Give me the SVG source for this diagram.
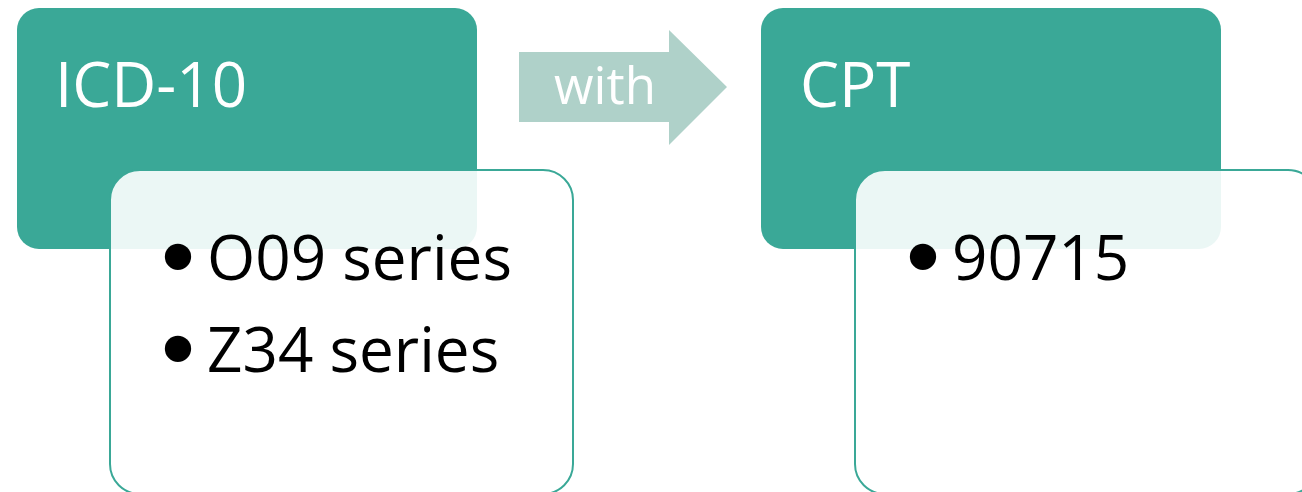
<svg xmlns="http://www.w3.org/2000/svg" width="1302" height="492" viewBox="0 0 1302 492">
<style>
.head{fill:#3AA897}
.box{fill:#FFFFFF;fill-opacity:0.9;stroke:#3AA897;stroke-width:2}
.ttl{font-family:"Open Sans","DejaVu Sans",sans-serif;font-size:62px;fill:#FFFFFF}
.item{font-family:"Open Sans","DejaVu Sans",sans-serif;font-size:62px;fill:#000000}
.bul{font-family:"Liberation Sans","DejaVu Sans",sans-serif;font-size:97px}
.arrow{fill:#AFD1C9}
</style>
<rect width="1302" height="492" fill="#FFFFFF"/>
<g id="icd10">
<rect class="head" x="17" y="8" width="460" height="241" rx="22"/>
<text class="ttl" x="55" y="107">ICD-10</text>
</g>
<g id="cpt">
<rect class="head" x="761" y="8" width="460" height="241" rx="22"/>
<text class="ttl" x="800" y="107">CPT</text>
</g>
<g id="icd10-list">
<rect class="box" x="110" y="170" width="463" height="324" rx="30"/>
<text class="item"><tspan class="bul" x="161" y="289">•</tspan><tspan x="207" y="280">O09 series</tspan></text>
<text class="item"><tspan class="bul" x="161" y="381">•</tspan><tspan x="207" y="372">Z34 series</tspan></text>
</g>
<g id="cpt-list">
<rect class="box" x="855" y="170" width="463" height="324" rx="30"/>
<text class="item"><tspan class="bul" x="906" y="289">•</tspan><tspan x="952" y="280">90715</tspan></text>
</g>
<g id="connectors">
<polygon class="arrow" points="519,52 669,52 669,30 727,87 669,145 669,122 519,122"/>
<text x="605" y="104" text-anchor="middle" style="font-family:'Open Sans','DejaVu Sans',sans-serif;font-size:51px;fill:#FFFFFF">with</text>
</g>
</svg>
